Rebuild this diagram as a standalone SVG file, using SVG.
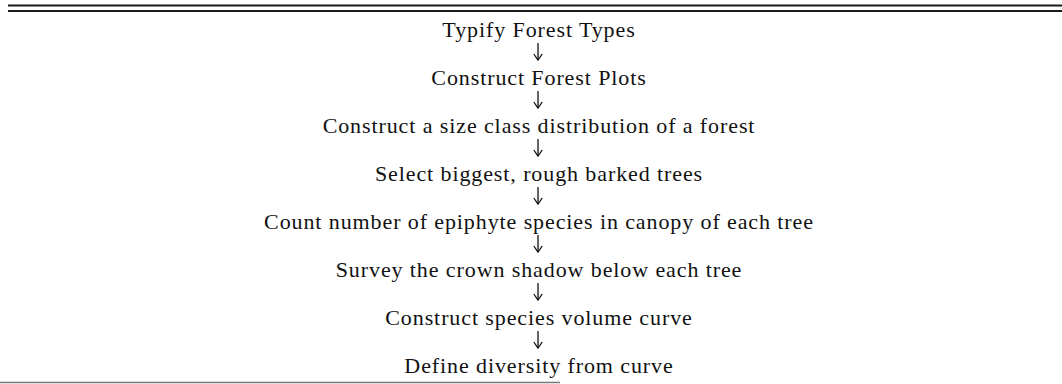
<svg xmlns="http://www.w3.org/2000/svg" width="1062" height="384" viewBox="0 0 1062 384">
<style>
.t{font-family:"Liberation Serif","Times New Roman",serif;font-size:22px;letter-spacing:0.9px;fill:#111;text-anchor:middle}
.rule{stroke:#1a1a1a;stroke-width:1.8;fill:none}
.c{stroke:#111;stroke-width:1.3;fill:none}
</style>
<defs>
<marker id="ah" markerWidth="10" markerHeight="12" refX="8" refY="5" orient="auto" markerUnits="userSpaceOnUse" viewBox="0 0 10 10">
<path d="M2,0.8 L8,5 L2,9.2" stroke="#111" stroke-width="1.3" fill="none"/>
</marker>
</defs>
<rect width="1062" height="384" fill="#fff"/>
<g id="rules">
<line class="rule" x1="8" y1="5.5" x2="1062" y2="5.5"/>
<line class="rule" x1="8" y1="11" x2="1062" y2="11"/>
<line x1="0" y1="382.5" x2="560" y2="382.5" stroke="#777" stroke-width="1.5"/>
</g>
<g id="n1"><text class="t" x="539" y="37">Typify Forest Types</text></g>
<g id="n2"><text class="t" x="539" y="85">Construct Forest Plots</text></g>
<g id="n3"><text class="t" x="539" y="133">Construct a size class distribution of a forest</text></g>
<g id="n4"><text class="t" x="539" y="181">Select biggest, rough barked trees</text></g>
<g id="n5"><text class="t" x="539" y="229">Count number of epiphyte species in canopy of each tree</text></g>
<g id="n6"><text class="t" x="539" y="277">Survey the crown shadow below each tree</text></g>
<g id="n7"><text class="t" x="539" y="325">Construct species volume curve</text></g>
<g id="n8"><text class="t" x="539" y="373">Define diversity from curve</text></g>
<g id="connectors">
<line class="c" x1="538" y1="43" x2="538" y2="60" marker-end="url(#ah)"/>
<line class="c" x1="538" y1="91" x2="538" y2="108" marker-end="url(#ah)"/>
<line class="c" x1="538" y1="139" x2="538" y2="156" marker-end="url(#ah)"/>
<line class="c" x1="538" y1="187" x2="538" y2="204" marker-end="url(#ah)"/>
<line class="c" x1="538" y1="235" x2="538" y2="252" marker-end="url(#ah)"/>
<line class="c" x1="538" y1="283" x2="538" y2="300" marker-end="url(#ah)"/>
<line class="c" x1="538" y1="331" x2="538" y2="348" marker-end="url(#ah)"/>
</g>
</svg>
